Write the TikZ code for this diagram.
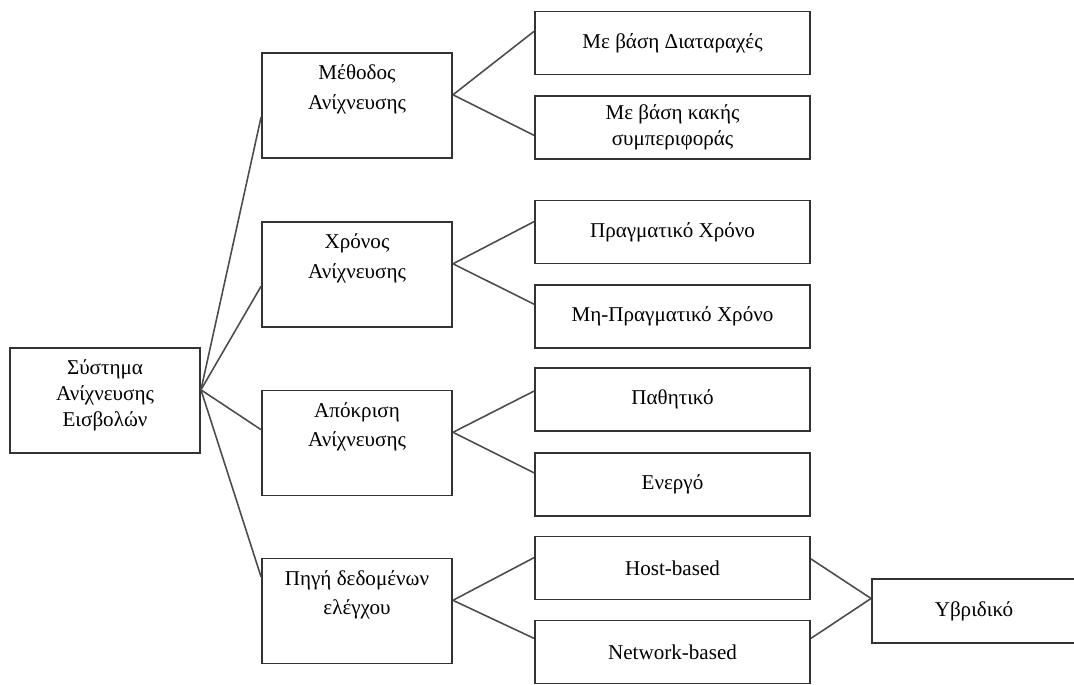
\documentclass[tikz,border=0pt]{standalone}
\usepackage{fontspec}
\setmainfont{Liberation Serif}
\usetikzlibrary{calc}

\begin{document}
\begin{tikzpicture}[x=0.02cm,y=-0.02cm,
	every node/.style={font=\fontsize{12}{14.5}\selectfont},
	box/.style={draw=black!80,line width=1.1pt,rectangle,inner sep=2pt,align=center},
	mid/.style={box,minimum width=3.8cm,minimum height=2.1cm},
	midtext/.style={anchor=north,yshift=-7pt,inner sep=0pt,align=center,draw=none,font=\fontsize{12}{17}\selectfont},
	leaf/.style={box,minimum width=5.5cm,minimum height=1.26cm},
	link/.style={draw=black!70,line width=0.9pt}]
	\useasboundingbox (0,0) rectangle (1074,684);

	\node[mid,label={[midtext,font=\fontsize{12}{14.8}\selectfont]north:Σύστημα\\Ανίχνευσης\\Εισβολών}] (ids) at (105,400.5) {};

	\node[mid,label={[midtext]north:Μέθοδος\\Ανίχνευσης}] (method) at (357,105.5) {};
	\node[mid,label={[midtext]north:Χρόνος\\Ανίχνευσης}] (time) at (357,274.5) {};
	\node[mid,label={[midtext]north:Απόκριση\\Ανίχνευσης}] (resp) at (357,443) {};
	\node[mid,label={[midtext]north:Πηγή δεδομένων\\ελέγχου}] (source) at (357,611) {};

	\node[leaf] (anomaly) at (672.5,43) {Με βάση Διαταραχές};
	\node[leaf] (misuse) at (672.5,127.5) {Με βάση κακής\\συμπεριφοράς};
	\node[leaf] (realtime) at (672.5,232) {Πραγματικό Χρόνο};
	\node[leaf] (nonreal) at (672.5,316.5) {Μη-Πραγματικό Χρόνο};
	\node[leaf] (passive) at (672.5,399.5) {Παθητικό};
	\node[leaf] (active) at (672.5,484.5) {Ενεργό};
	\node[leaf] (host) at (672.5,568) {Host-based};
	\node[leaf] (network) at (672.5,652) {Network-based};

	\node[box,minimum width=4.08cm,minimum height=1.28cm] (hybrid) at (974,611) {Υβριδικό};

	% root to the four criteria
	\draw[link] ($(ids.north east)!.4!(ids.south east)$) -- ($(method.north west)!.61!(method.south west)$);
	\draw[link] ($(ids.north east)!.4!(ids.south east)$) -- ($(time.north west)!.61!(time.south west)$);
	\draw[link] ($(ids.north east)!.4!(ids.south east)$) -- ($(resp.north west)!.375!(resp.south west)$);
	\draw[link] ($(ids.north east)!.4!(ids.south east)$) -- ($(source.north west)!.18!(source.south west)$);

	% criteria to their kinds
	\draw[link] ($(method.north east)!.4!(method.south east)$) -- ($(anomaly.north west)!.32!(anomaly.south west)$);
	\draw[link] ($(method.north east)!.4!(method.south east)$) -- ($(misuse.north west)!.62!(misuse.south west)$);
	\draw[link] ($(time.north east)!.4!(time.south east)$) -- ($(realtime.north west)!.34!(realtime.south west)$);
	\draw[link] ($(time.north east)!.4!(time.south east)$) -- ($(nonreal.north west)!.31!(nonreal.south west)$);
	\draw[link] ($(resp.north east)!.4!(resp.south east)$) -- ($(passive.north west)!.37!(passive.south west)$);
	\draw[link] ($(resp.north east)!.4!(resp.south east)$) -- ($(active.north west)!.32!(active.south west)$);
	\draw[link] ($(source.north east)!.4!(source.south east)$) -- ($(host.north west)!.34!(host.south west)$);
	\draw[link] ($(source.north east)!.4!(source.south east)$) -- ($(network.north west)!.29!(network.south west)$);

	% both sources meet in the hybrid one
	\draw[link] ($(host.north east)!.36!(host.south east)$) -- ($(hybrid.north west)!.31!(hybrid.south west)$);
	\draw[link] ($(network.north east)!.29!(network.south east)$) -- ($(hybrid.north west)!.31!(hybrid.south west)$);
\end{tikzpicture}
\end{document}
